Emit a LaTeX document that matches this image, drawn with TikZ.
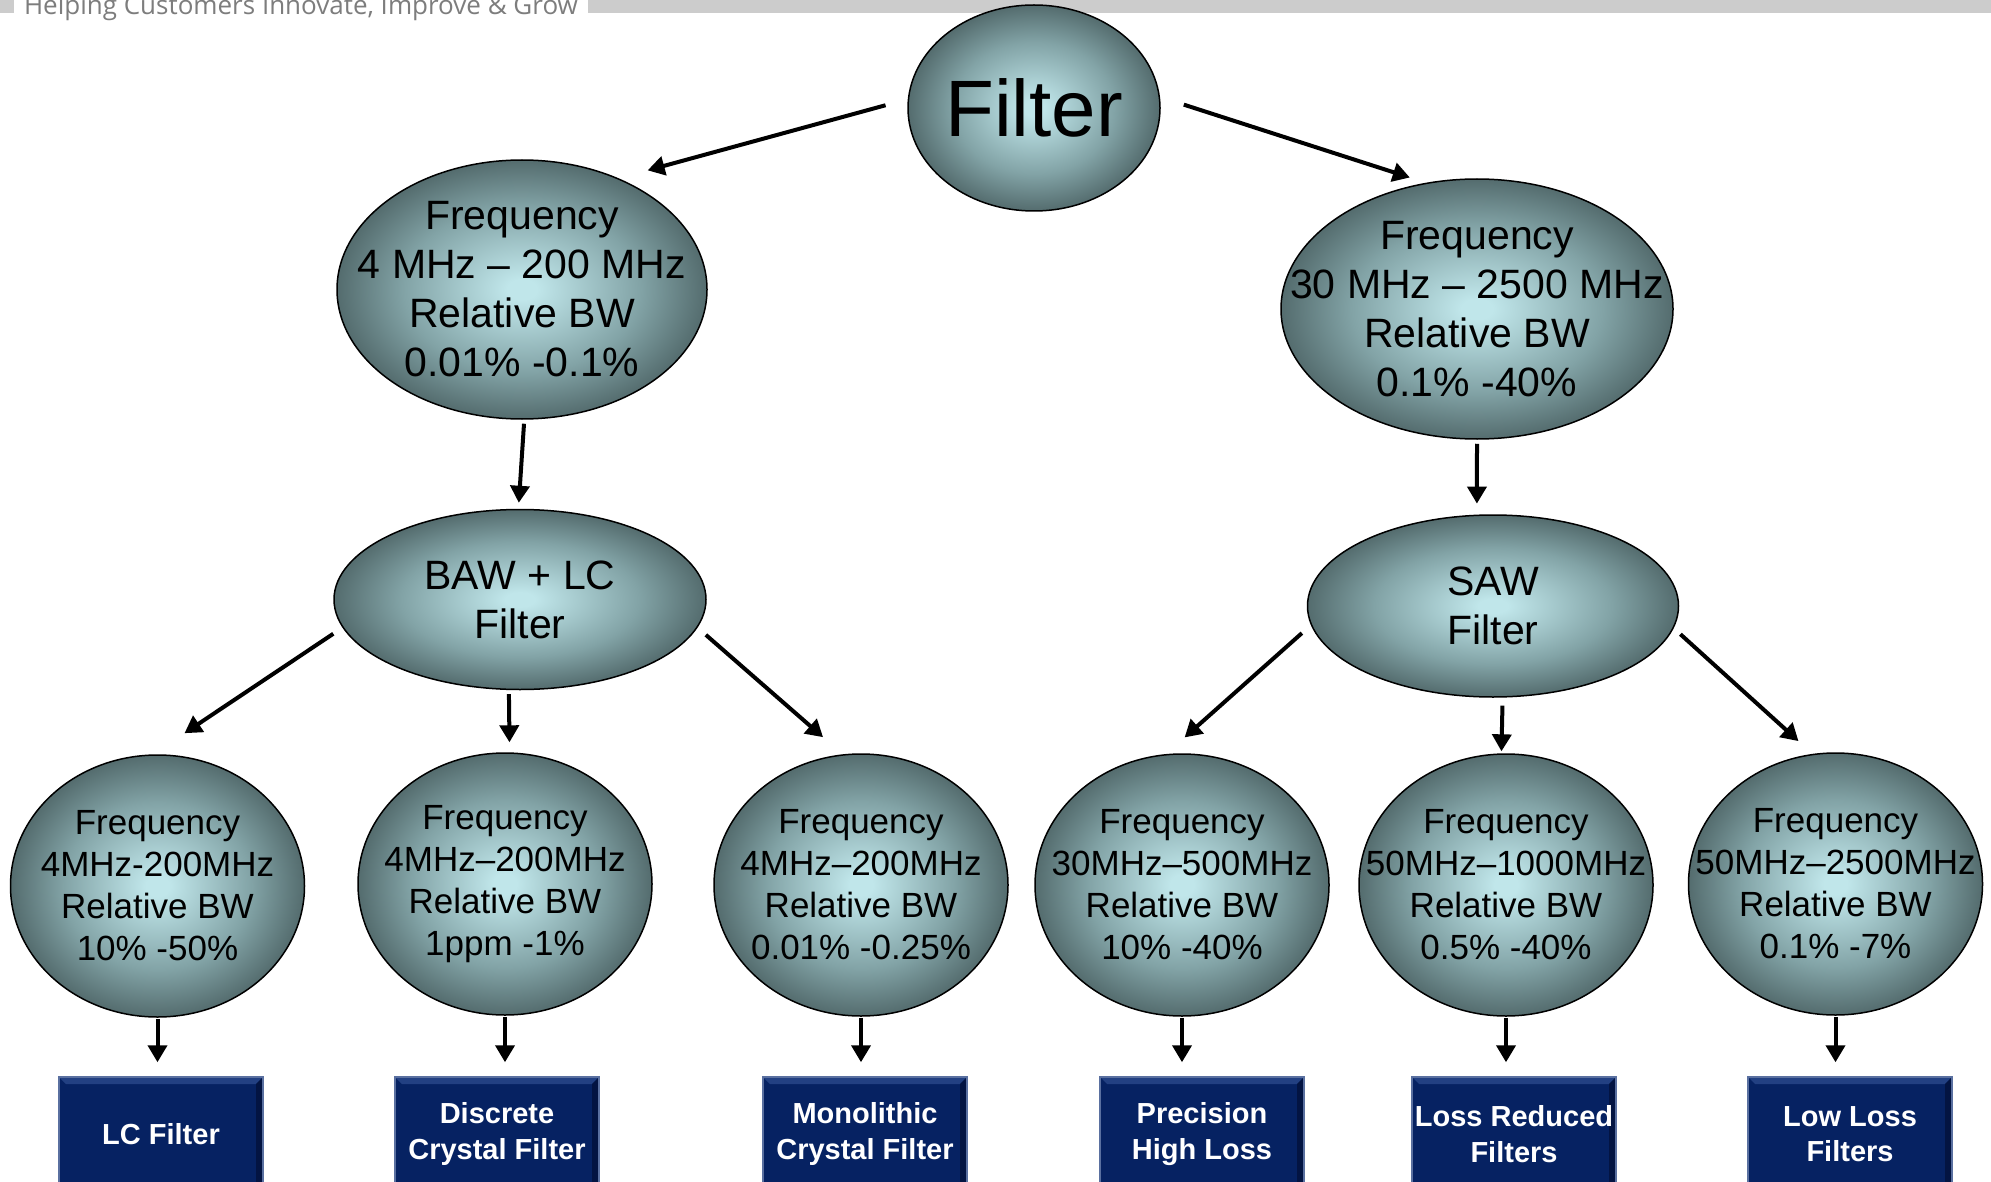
\documentclass[tikz,border=0pt]{standalone}
\usepackage{fontspec}
\setmainfont{Liberation Sans}
\newfontfamily\tagfont{Open Sans}
\usetikzlibrary{arrows.meta,shapes.geometric}

\definecolor{ellcore}{RGB}{192,230,234}
\definecolor{ellmid}{RGB}{130,163,166}
\definecolor{ellrim}{RGB}{84,108,110}
\definecolor{boxnavy}{RGB}{6,34,98}
\definecolor{boxrim}{RGB}{90,112,160}
\definecolor{boxlit}{RGB}{34,64,130}
\definecolor{boxdim}{RGB}{3,20,66}
\definecolor{hdrgrey}{RGB}{204,204,204}
\definecolor{tagtext}{RGB}{125,125,125}

\pgfdeclareradialshading{ellglow}{\pgfpointorigin}{color(0bp)=(ellcore); color(2bp)=(ellcore); color(16bp)=(ellmid); color(25bp)=(ellrim); color(50bp)=(ellrim)}

\begin{document}
\begin{tikzpicture}[->,>={Triangle[length=17pt,width=19pt]},x=1pt,y=-1pt,line width=4pt,
	ell node/.style={ellipse,draw=black,line width=1.5pt,shade,shading=ellglow,inner sep=-60pt,align=center},
	big text/.style={font=\fontsize{80}{96}\selectfont},
	mid text/.style={font=\fontsize{41}{49}\selectfont},
	small text/.style={font=\fontsize{35}{42}\selectfont,minimum width=294pt,minimum height=262pt},
	box node/.style={rectangle,fill=boxnavy,draw=boxrim,line width=1.5pt,text=white,inner sep=0pt,
		minimum width=204pt,minimum height=114pt,align=center,font=\fontsize{29}{35.5}\selectfont\bfseries,
		path picture={
			\fill[boxlit] (path picture bounding box.north west) -- (path picture bounding box.north east)
				-- ++(-7,7) -| ([shift={(7,7)}]path picture bounding box.north west) -- cycle;
			\fill[boxdim] (path picture bounding box.north east) -- ++(-7,7)
				-- ([xshift=-7pt]path picture bounding box.south east) -- (path picture bounding box.south east) -- cycle;}},
	tag node/.style={anchor=base west,inner sep=0pt,text=tagtext,font=\tagfont\fontsize{26}{31}\selectfont}]
\useasboundingbox (0,0) rectangle (1991,1182);
\clip (0,0) rectangle (1991,1182);
% header strip
\fill[hdrgrey] (0,0) rectangle (1991,13);
\fill[white] (14,0) rectangle (588,13);
\node[tag node] (tag) at (22,15) {Helping Customers Innovate, Improve \& Grow};
% top
\node[ell node,big text,minimum width=252pt,minimum height=206pt] (filter) at (1034,108) {Filter};
\node[ell node,mid text,minimum width=370pt,minimum height=259pt] (l2l) at (522,289.5) {Frequency\\4 MHz – 200 MHz\\Relative BW\\0.01\% -0.1\%};
\node[ell node,mid text,minimum width=392pt,minimum height=260pt] (l2r) at (1477,309) {Frequency\\30 MHz – 2500 MHz\\Relative BW\\0.1\% -40\%};
\node[ell node,mid text,minimum width=372pt,minimum height=180pt] (baw) at (520,599.5) {BAW + LC\\Filter};
\node[ell node,mid text,minimum width=371pt,minimum height=182pt] (saw) at (1493,606) {SAW\\Filter};
% third row
\node[ell node,small text] (b1) at (157.5,886) {Frequency\\4MHz-200MHz\\Relative BW\\10\% -50\%};
\node[ell node,small text] (b2) at (505,884) {Frequency\\4MHz–200MHz\\Relative BW\\1ppm -1\%};
\node[ell node,small text] (b3) at (861,885) {Frequency\\4MHz–200MHz\\Relative BW\\0.01\% -0.25\%};
\node[ell node,small text] (b4) at (1182,885) {Frequency\\30MHz–500MHz\\Relative BW\\10\% -40\%};
\node[ell node,small text] (b5) at (1506,885) {Frequency\\50MHz–1000MHz\\Relative BW\\0.5\% -40\%};
\node[ell node,small text] (b6) at (1835.5,884) {Frequency\\50MHz–2500MHz\\Relative BW\\0.1\% -7\%};
% boxes
\node[box node] (lc) at (161,1134) {LC Filter};
\node[box node] (dcf) at (497,1134) {Discrete\\Crystal Filter};
\node[box node] (mcf) at (865,1134) {Monolithic\\Crystal Filter};
\node[box node] (phl) at (1202,1134) {Precision\\High Loss};
\node[box node] (lrf) at (1514,1134) {Loss Reduced\\Filters};
\node[box node] (llf) at (1850,1134) {Low Loss\\Filters};
\path
	(filter.176) edge[shorten <=23pt,shorten >=30pt] (l2l.49)
	(filter.5) edge[shorten <=25pt,shorten >=17pt] (l2r.112)
	(l2l.-89) edge[shorten <=4pt,shorten >=6pt] (baw.91)
	(l2r.south) edge[shorten <=4pt,shorten >=11pt] (saw.100)
	(baw.189) edge[shorten <=11pt,shorten >=38pt] (b1.92)
	(baw.-97) edge[shorten <=4pt,shorten >=10pt] (b2.88)
	(baw.-9) edge[shorten <=11pt,shorten >=26pt] (b3.98)
	(saw.186) edge[shorten <=12pt,shorten >=25pt] (b4.97)
	(saw.-84) edge[shorten <=8pt,shorten >=2pt] (b5.92)
	(saw.-7) edge[shorten <=9pt,shorten >=19pt] (b6.100);
\path[shorten <=1pt,shorten >=14pt]
	(b1.south) edge (b1.south |- lc.north)
	(b2.south) edge (b2.south |- dcf.north)
	(b3.south) edge (b3.south |- mcf.north)
	(b4.south) edge (b4.south |- phl.north)
	(b5.south) edge (b5.south |- lrf.north)
	(b6.south) edge (b6.south |- llf.north);
\end{tikzpicture}
\end{document}
